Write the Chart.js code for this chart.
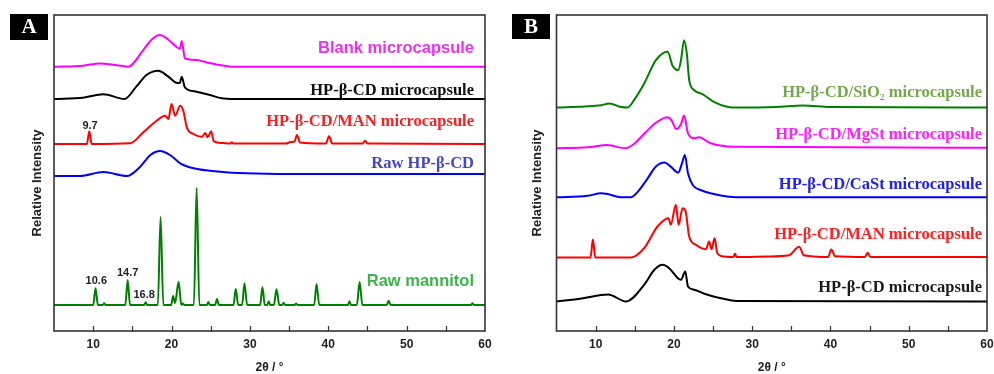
<!DOCTYPE html>
<html>
<head>
<meta charset="utf-8">
<script src="https://cdn.jsdelivr.net/npm/chart.js@4.4.1/dist/chart.umd.min.js"></script>
<style>
  html, body { margin: 0; padding: 0; background: #fff; }
  #wrap { position: relative; width: 994px; height: 374px; }
  .panel { position: absolute; top: 0; width: 497px; height: 374px; }
</style>
</head>
<body>
<div id="wrap">
  <div class="panel" style="left:0"><canvas id="chartA" width="497" height="374"></canvas></div>
  <div class="panel" style="left:497px"><canvas id="chartB" width="497" height="374"></canvas></div>
</div>
<script>
// x axis ticks (2θ)
const xTickLabels = [10, 20, 30, 40, 50, 60];
const xTickMarks = [10, 15, 20, 25, 30, 35, 40, 45, 50, 55];

// ---- panel A : 2θ positions and intensities (arbitrary units) ----
const blankX = [5, 8.7, 10.85, 12.55, 14.5, 15.1, 16.4, 17.45, 18.5, 19.6, 20.6, 21.05, 21.3, 21.7, 23.2, 24.5, 26.2, 27.9, 60];
const blankY = [0, 1, 3.3, 2, 0, 3.3, 16.7, 27, 31.7, 27, 20, 18, 25.7, 8.3, 6.7, 4.3, 1.7, 0, 0];

const hpcdMcX = [5, 8.7, 11.3, 14.0, 15.5, 16.8, 18.3, 19.6, 20.6, 21.05, 21.3, 21.7, 23.2, 24.9, 26.4, 28, 60];
const hpcdMcY = [0, 1.3, 4.7, 0, 12.3, 24, 28.3, 22.3, 16.3, 16, 22.3, 11.7, 7.3, 4, 0.7, 0, 0];

const manMcX = [5, 9.2, 9.5, 9.8, 14.7, 16.4, 18.1, 19.2, 19.6, 20.0, 20.45, 21.1, 21.5, 21.95, 22.8, 23.9, 24.3, 24.6, 25.05, 25.4, 26.5, 27.5, 27.7, 27.9, 34.6, 35.2, 35.7, 36.0, 36.4, 39.7, 40.1, 40.5, 44.4, 44.7, 45.0, 60];
const manMcY = [0, 0, 12.7, 0, 0.7, 11.7, 23.3, 28.3, 25, 40, 28.3, 38.3, 33.3, 16.7, 10, 7.3, 11, 6.7, 12.7, 2.7, 1, 0.5, 1.7, 0.5, 0.5, 2, 2.5, 9, 1.5, 0.5, 7.7, 0.5, 0.5, 3.3, 0.5, 0];

const rawHpcdX = [5, 8.3, 11.3, 14.3, 16.0, 17.3, 18.55, 19.8, 21.1, 22.8, 26.2, 29.6, 35, 60];
const rawHpcdY = [0, 0, 4, 0, 9.3, 21, 25, 21, 12.7, 7.7, 4.3, 2.7, 2, 2];

const mannitolX = [5, 10.0, 10.3, 10.6, 11.2, 11.4, 11.6, 14.1, 14.4, 14.7, 16.5, 16.7, 16.9, 18.25, 18.6, 18.95, 19.95, 20.2, 20.45, 20.9, 21.25, 21.45, 21.65, 22.85, 23.2, 23.55, 24.5, 24.7, 24.9, 25.55, 25.8, 26.05, 27.9, 28.2, 28.5, 29.0, 29.3, 29.65, 31.3, 31.6, 31.9, 32.2, 32.4, 32.6, 33.05, 33.4, 33.75, 34.1, 34.3, 34.5, 35.7, 35.9, 36.1, 38.2, 38.5, 38.85, 42.5, 42.7, 42.9, 43.65, 44.0, 44.35, 47.45, 47.7, 47.95, 58.2, 58.4, 58.6, 60];
const mannitolY = [0, 0, 16.7, 0, 0, 1.7, 0, 0, 25, 0, 0, 2.7, 0, 0, 88, 0, 0, 9, 2, 23.3, 0, 1.5, 0, 0, 117, 0, 0, 3, 0, 0, 6, 0, 0, 16, 0, 0, 21.7, 0, 0, 17.7, 0, 0, 3.7, 0, 0, 15.7, 0, 0, 2.3, 0, 0, 1.5, 0, 0, 21, 0, 0, 3.7, 0, 0, 23, 0, 0, 4.3, 0, 0, 1.7, 0, 0];

// ---- panel B ----
const sio2X = [5, 10.7, 11.75, 13.25, 14.1, 14.9, 16.2, 17.7, 19.2, 19.8, 20.55, 20.9, 21.3, 21.65, 21.95, 22.6, 23.65, 25.1, 26.8, 27.4, 33, 36.5, 40, 60];
const sio2Y = [0, 2.3, 4, 0.5, 0, 7.3, 24, 47.3, 55.7, 42.3, 37.3, 47, 67.3, 54, 27.3, 17.3, 13.3, 5.7, 0.7, 0, 0.5, 2, 0.5, 0];

const mgstX = [5, 9, 11.5, 13.8, 15.0, 16.2, 17.7, 19.2, 19.7, 20.3, 20.9, 21.3, 21.8, 22.6, 23.2, 24.7, 27.7, 60];
const mgstY = [0, 1, 3.3, 0, 5, 14.5, 25.5, 31, 28, 19.3, 24, 32.7, 15, 10, 11, 5, 1.5, 0.5];

const castX = [5, 9, 10.7, 11.5, 13.2, 14.5, 15.4, 16.65, 17.7, 18.8, 19.6, 20.55, 21.1, 21.4, 21.8, 22.4, 23.4, 25.1, 26.8, 28, 60];
const castY = [0, 1.5, 4, 3.3, 0, 0, 5.7, 19, 30.7, 34.7, 30.7, 24.7, 35.7, 42.3, 24, 12.3, 7.3, 3.3, 0.7, 0, 0];

const manBX = [5, 9.35, 9.65, 9.95, 14.5, 16.2, 17.9, 19.3, 19.6, 20.25, 20.6, 21.1, 21.5, 21.95, 22.8, 24.1, 24.5, 24.8, 25.2, 25.55, 26.4, 27.6, 27.8, 28.0, 31.9, 34.7, 36.0, 36.6, 39.7, 40.1, 40.6, 44.4, 44.75, 45.1, 60];
const manBY = [0, 0, 18.3, 0, 0, 9.3, 31, 39.3, 32.7, 52.7, 32.7, 49.3, 46, 21, 12.7, 8.3, 16, 8.3, 19.3, 4.3, 1, 0.5, 3.7, 0.5, 1, 2.3, 10.7, 2.3, 0.5, 8, 1.3, 0.5, 4.7, 0.5, 0.5];

const hpcdBX = [5, 8.2, 11.6, 13.9, 16.2, 17.5, 18.55, 19.4, 20.5, 20.9, 21.45, 21.8, 22.6, 24.3, 26, 28, 60];
const hpcdBY = [0, 3, 7, 0, 16.7, 31.7, 36.7, 33.3, 23.3, 21.7, 30, 15, 11.7, 6.7, 3.3, 0.5, 0];

// vertical stacking offsets
const offsetsA = [264.3, 232, 187, 155, 26];
const offsetsB = [223.5, 182.7, 133.7, 73.5, 29.5];

const SANS = 'bold 16.5px "Liberation Sans", Arial, sans-serif';
const SERIF = 'bold 16.5px "Liberation Serif", "Times New Roman", serif';

function pts(xs, ys, off) {
  return xs.map((x, i) => ({ x: x, y: ys[i] + off }));
}

const decor = {
  id: 'decor',
  afterDraw(chart, args, opts) {
    const { ctx, chartArea: a, scales: { x, y } } = chart;
    ctx.save();
    // frame
    ctx.strokeStyle = '#333';
    ctx.lineWidth = 1.6;
    ctx.strokeRect(a.left, a.top, a.right - a.left, a.bottom - a.top);
    // inward tick marks
    ctx.beginPath();
    xTickMarks.forEach(v => {
      const px = Math.round(x.getPixelForValue(v)) + 0.5;
      ctx.moveTo(px, a.bottom);
      ctx.lineTo(px, a.bottom - 5);
    });
    ctx.lineWidth = 1.2;
    ctx.stroke();

    // panel letter
    ctx.fillStyle = '#000';
    ctx.fillRect(opts.box[0], opts.box[1], opts.box[2], opts.box[3]);
    ctx.fillStyle = '#fff';
    ctx.font = 'bold 21px "Liberation Serif", "Times New Roman", serif';
    ctx.textAlign = 'center';
    ctx.textBaseline = 'middle';
    ctx.fillText(opts.letter, opts.box[0] + opts.box[2] / 2, opts.box[1] + opts.box[3] / 2 + 1);

    // axis titles
    ctx.fillStyle = '#222';
    ctx.font = 'bold 12px "Liberation Sans", Arial, sans-serif';
    ctx.fillText('2θ / °', (a.left + a.right) / 2, 368);
    ctx.save();
    ctx.translate(opts.yTitleX, 183);
    ctx.rotate(-Math.PI / 2);
    ctx.font = 'bold 13px "Liberation Sans", Arial, sans-serif';
    ctx.fillText('Relative Intensity', 0, 0);
    ctx.restore();

    // series labels
    ctx.textAlign = 'right';
    opts.labels.forEach(l => {
      ctx.font = l.font;
      ctx.fillStyle = l.color;
      ctx.fillText(l.text, a.right - opts.labelInset, y.getPixelForValue(l.y));
    });

    // peak notes
    ctx.textAlign = 'center';
    ctx.fillStyle = '#222';
    ctx.font = 'bold 11px "Liberation Sans", Arial, sans-serif';
    (opts.notes || []).forEach(n => {
      ctx.fillText(n.text, x.getPixelForValue(n.x), y.getPixelForValue(n.y));
    });
    ctx.restore();
  }
};

function makeChart(id, datasets, pad, decorOpts) {
  return new Chart(document.getElementById(id), {
    type: 'line',
    data: { datasets: datasets },
    options: {
      responsive: false,
      animation: false,
      devicePixelRatio: 1,
      layout: { padding: pad },
      elements: { point: { radius: 0 }, line: { borderWidth: 2, cubicInterpolationMode: 'monotone' } },
      plugins: { legend: { display: false }, tooltip: { enabled: false }, decor: decorOpts },
      scales: {
        x: {
          type: 'linear', min: 5, max: 60,
          grid: { display: false, drawTicks: false },
          border: { display: false },
          afterFit: s => { s.height = 43; s.paddingLeft = 0; s.paddingRight = 0; },
          ticks: {
            stepSize: 5, autoSkip: false, maxRotation: 0, padding: 6, color: '#222',
            font: { family: '"Liberation Sans", Arial, sans-serif', size: 12, weight: 'bold' },
            callback: v => xTickLabels.includes(v) ? String(v) : ''
          }
        },
        y: { display: false, min: 0, max: 316 }
      }
    },
    plugins: [decor]
  });
}

makeChart('chartA', [
  { data: pts(blankX, blankY, offsetsA[0]), borderColor: '#ff00ff' },
  { data: pts(hpcdMcX, hpcdMcY, offsetsA[1]), borderColor: '#000000' },
  { data: pts(manMcX, manMcY, offsetsA[2]), borderColor: '#ff0000' },
  { data: pts(rawHpcdX, rawHpcdY, offsetsA[3]), borderColor: '#0000ff' },
  { data: pts(mannitolX, mannitolY, offsetsA[4]), borderColor: '#008000' }
], { left: 54, right: 12, top: 15, bottom: 0 }, {
  letter: 'A', box: [10, 14, 38, 26], yTitleX: 37, labelInset: 11,
  labels: [
    { text: 'Blank microcapsule', color: '#ee30ee', font: SANS, y: 283 },
    { text: 'HP-β-CD microcapsule', color: '#111111', font: SERIF, y: 240.3 },
    { text: 'HP-β-CD/MAN microcapsule', color: '#f52222', font: SERIF, y: 209.3 },
    { text: 'Raw HP-β-CD', color: '#4646c8', font: SERIF, y: 167 },
    { text: 'Raw mannitol', color: '#3cb44b', font: SANS, y: 49.3 }
  ],
  notes: [
    { text: '9.7', x: 9.6, y: 205 },
    { text: '10.6', x: 10.4, y: 50.3 },
    { text: '14.7', x: 14.4, y: 57.7 },
    { text: '16.8', x: 16.5, y: 36 }
  ]
});

makeChart('chartB', [
  { data: pts(sio2X, sio2Y, offsetsB[0]), borderColor: '#008000' },
  { data: pts(mgstX, mgstY, offsetsB[1]), borderColor: '#ff00ff' },
  { data: pts(castX, castY, offsetsB[2]), borderColor: '#0000ff' },
  { data: pts(manBX, manBY, offsetsB[3]), borderColor: '#ff0000' },
  { data: pts(hpcdBX, hpcdBY, offsetsB[4]), borderColor: '#000000' }
], { left: 59.5, right: 7, top: 15, bottom: 0 }, {
  letter: 'B', box: [15, 14, 38, 25], yTitleX: 40, labelInset: 5,
  labels: [
    { text: 'HP-β-CD/SiO₂ microcapsule', color: '#73a94c', font: SERIF, y: 238.3 },
    { text: 'HP-β-CD/MgSt microcapsule', color: '#ff22ff', font: SERIF, y: 196.7 },
    { text: 'HP-β-CD/CaSt microcapsule', color: '#2020ee', font: SERIF, y: 146 },
    { text: 'HP-β-CD/MAN microcapsule', color: '#ff2020', font: SERIF, y: 96 },
    { text: 'HP-β-CD microcapsule', color: '#1a1a1a', font: SERIF, y: 43.7 }
  ]
});
</script>
</body>
</html>
